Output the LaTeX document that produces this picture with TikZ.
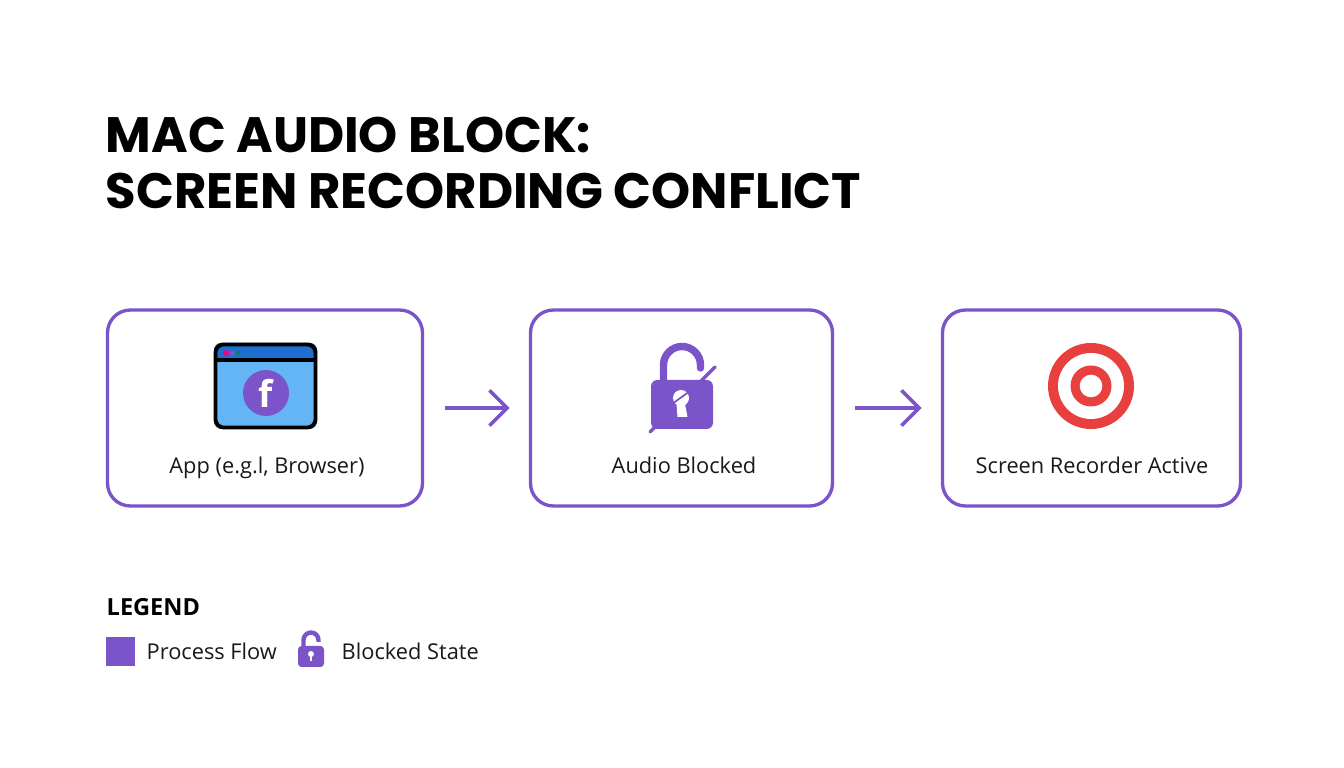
\documentclass[tikz,border=0pt]{standalone}
\usepackage{fontspec}
\setmainfont{Open Sans}
\newfontfamily\titlefont{Poppins}
\usetikzlibrary{arrows.meta}
\definecolor{flowpurple}{HTML}{7A54C8}
\definecolor{windowblue}{HTML}{64B5F6}
\definecolor{headerblue}{HTML}{1F6FD0}
\definecolor{targetred}{HTML}{E8403F}
\tikzset{
  flowbox/.style={draw=flowpurple, line width=0.95pt, rounded corners=6.5pt, minimum height=19.6mm, inner sep=0pt},
  flowarrow/.style={draw=flowpurple, line width=1pt, -{Straight Barb[length=5pt,width=10pt]}, shorten <=5.8pt, shorten >=5.5pt},
  boxlabel/.style={font=\fontsize{6.2}{8}\selectfont, text=black!90, inner sep=0pt},
  titleline/.style={font=\titlefont\bfseries\fontsize{14.15}{17}\selectfont, anchor=west, inner sep=0pt},
}
\begin{document}
\begin{tikzpicture}[x=0.1mm, y=-0.1mm]
\fill[white] (0,0) rectangle (1344,768);
\useasboundingbox (0,0) rectangle (1344,768);
% title
\node[titleline] (titleone) at (105,135) {MAC AUDIO BLOCK:};
\node[titleline] (titletwo) at (105,191) {SCREEN RECORDING CONFLICT};
% boxes
\node[flowbox, minimum width=31.5mm] (appbox) at (265,408) {};
\node[flowbox, minimum width=30.2mm] (blockedbox) at (681.5,408) {};
\node[flowbox, minimum width=29.8mm] (recorderbox) at (1091.5,408) {};
\node[boxlabel, anchor=base] (applabel) at (267,474) {App (e.g.l, Browser)};
\node[boxlabel, anchor=base] (blockedlabel) at (684,474) {Audio Blocked};
\node[boxlabel, anchor=base] (recorderlabel) at (1092,474) {Screen Recorder Active};
\draw[flowarrow] (appbox) -- (blockedbox);
\draw[flowarrow] (blockedbox) -- (recorderbox);
% browser window
\fill[windowblue, rounded corners=2pt] (214,343) rectangle (317,429);
\fill[headerblue, rounded corners=2pt] (214,343) rectangle (317,360);
\draw[black, line width=1.1pt, rounded corners=2.3pt] (215.5,344.5) rectangle (315.5,427.5);
\draw[black, line width=1.3pt] (215.5,360) -- (315.5,360);
\fill[magenta!80!red] (226,353) circle (3);
\fill[flowpurple] (232.5,353) circle (2.5);
\fill[teal] (238,353) circle (2.5);
\node[circle, fill=flowpurple, minimum size=4.6mm, inner sep=0pt, text=white, font=\bfseries\fontsize{10.5}{12}\selectfont] (fbcircle) at (266,393) {f};
% open lock with strike
\draw[flowpurple, line width=2.1pt, line cap=round] (663.5,385) -- (663.5,365) arc[start angle=180, end angle=360, radius=18.5] -- (700.5,368);
\fill[flowpurple, rounded corners=1.8pt] (651,380) rectangle (713,429);
\draw[flowpurple, line width=1pt, line cap=round] (650,432) -- (715,367);
\fill[white] (681,398) circle (8);
\fill[white] (676.5,404) -- (685,404) -- (687.5,417) -- (677.5,417) -- cycle;
\draw[flowpurple, line width=0.5pt] (672,404) -- (690,391);
% target
\fill[targetred] (1091,386) circle (43);
\fill[white] (1091,386) circle (33);
\fill[targetred] (1091,386) circle (20.5);
\fill[white] (1091,386) circle (11.3);
% legend
\node[font=\bfseries\fontsize{6.7}{8}\selectfont, anchor=west, inner sep=0pt] (legendtitle) at (106,607) {LEGEND};
\node[fill=flowpurple, minimum size=2.9mm, inner sep=0pt] (legendsquare) at (120.5,651.5) {};
\node[boxlabel, anchor=base west] (legendflow) at (146,659) {Process Flow};
\draw[flowpurple, line width=1.25pt] (303.5,650) -- (303.5,640) arc[start angle=180, end angle=360, radius=7.5] -- (318.5,642);
\fill[flowpurple, rounded corners=1pt] (298,646) rectangle (324,667);
\fill[white] (311,654) circle (3);
\fill[white] (310,654) rectangle (312,661);
\node[boxlabel, anchor=base west] (legendblocked) at (341,659) {Blocked State};
\end{tikzpicture}
\end{document}
